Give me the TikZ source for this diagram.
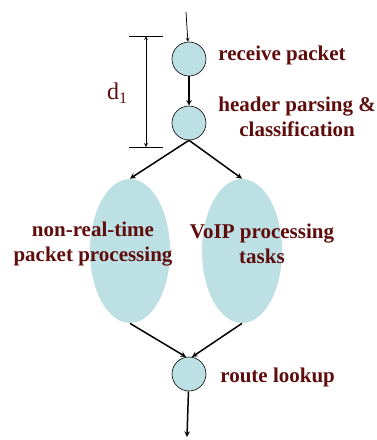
\documentclass[tikz,border=0pt]{standalone}
\usepackage{fontspec}
\setmainfont{Liberation Serif}
\usetikzlibrary{shapes.geometric}
\definecolor{lblred}{RGB}{94,12,12}
\definecolor{pktfill}{RGB}{188,224,227}
\tikzset{every picture/.style={line width=0.75pt}}
\tikzset{
  stage/.style={circle,draw=black,line width=0.6pt,fill=pktfill,minimum size=34pt,inner sep=0pt},
  task/.style={ellipse,fill=pktfill,minimum width=80pt,minimum height=144pt,inner sep=0pt},
  lbl/.style={text=lblred,font=\bfseries\fontsize{21}{25}\selectfont,align=center,inner sep=0pt},
  flow/.style={->,>=stealth,line width=1.5pt}
}
\begin{document}
\begin{tikzpicture}[x=1pt,y=-1pt]
				\useasboundingbox (0,0) rectangle (376,440);
				\node[stage] (rcv) at (189,59) {}; %受信
				\node[stage] (hdr) at (189,123) {}; %ヘッダ解析
				\node[task] (nrt) at (130,251) {};
				\node[task] (voip) at (242,251) {};
				\node[stage] (rt) at (189,374) {}; %経路検索
				\coordinate (in) at (186,12);
				\coordinate (out) at (187,437);
				\draw[->,>=stealth] (in)--(rcv);
				\draw[flow] (rcv)--(hdr);
				\draw[flow] (hdr.south)--(nrt.north);
				\draw[flow] (hdr.south)--(voip.north);
				\draw[flow] (nrt.south)--(rt.100);
				\draw[flow] (voip.south)--(rt.80);
				\draw[flow] (rt)--(out);
				%d1
				\coordinate (dtop) at (146,36);
				\coordinate (dbot) at (146,147);
				\draw ([xshift=-17pt]dtop)--([xshift=17pt]dtop);
				\draw ([xshift=-17pt]dbot)--([xshift=17pt]dbot);
				\draw[<->,>=stealth] (dtop)--(dbot);
				\node[text=lblred,inner sep=0pt] (dlbl) at (117,93) {\fontsize{24}{24}\selectfont d\raisebox{-0.35ex}{\fontsize{16}{16}\selectfont 1}};
				%labels
				\node[lbl,anchor=west] (rcvlbl) at (218,55) {receive packet};
				\node[lbl,anchor=west] (hdrlbl) at (218,117) {header parsing \&\\classification};
				\node[lbl] (nrtlbl) at (93,244) {non-real-time\\packet processing};
				\node[lbl] (voiplbl) at (262,244) {VoIP processing\\tasks};
				\node[lbl,anchor=west] (rtlbl) at (220,377) {route lookup};
			\end{tikzpicture}
\end{document}
